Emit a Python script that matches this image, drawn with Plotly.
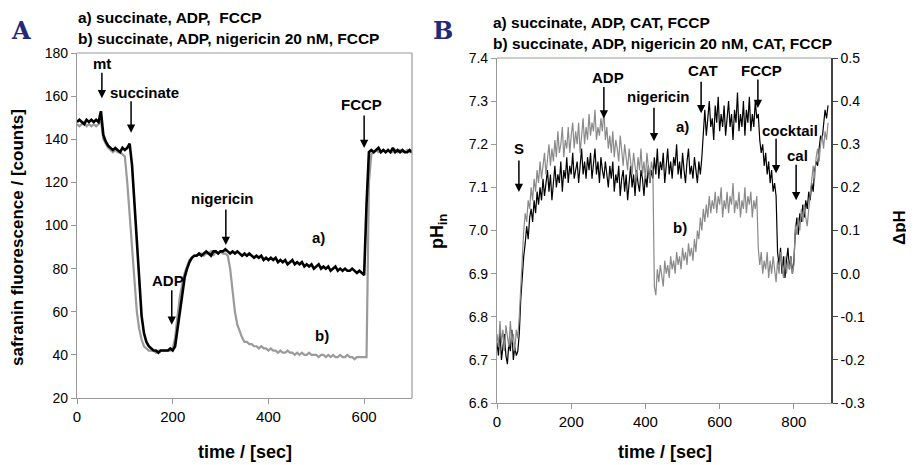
import numpy as np
import plotly.graph_objects as go

# ---------------- Panel A data (safranin fluorescence, counts), sampled every 5 s ----------------
A_STEP = 5
a_fluor_a = [148, 149, 148, 147, 149, 148, 149, 148, 149, 148,
             153, 142, 139, 137, 136, 135, 136, 135, 134, 136, 135, 136, 138,
             128, 110, 90, 72, 58, 50, 46, 44, 43, 42, 42, 41, 42, 42, 42, 42, 43, 42,
             44, 52, 62, 70, 76, 80, 83, 85, 86, 86, 87, 86, 87, 88, 87, 86, 88, 88, 87, 88,
             88, 89, 88, 87, 88, 87, 88, 87, 86, 87, 86, 87, 86, 85, 86, 85, 86, 84, 85, 84,
             85, 84, 85, 83, 84, 83, 84, 82, 83, 84, 82, 83, 82, 83, 81, 82, 81, 82, 80, 81,
             82, 80, 81, 80, 81, 79, 80, 81, 79, 80, 79, 80, 79, 79, 80, 79, 78, 79, 78, 77,
             110, 134, 135, 134, 135, 136, 134, 135, 134, 135, 134, 136, 134, 135, 134, 135,
             134, 134, 135, 134]
a_fluor_b = [147, 146, 147, 148, 146, 147, 146, 147, 146, 147,
             149, 140, 138, 136, 135, 134, 135, 134, 134, 133, 132,
             120, 104, 88, 72, 60, 52, 47, 44, 43, 42, 42, 42, 41, 42, 42, 42, 42, 42, 42,
             43, 48, 58, 67, 73, 78, 81, 84, 85, 86, 86, 87, 87, 86, 87, 87, 88, 86, 88, 87,
             88, 87, 87, 86, 80, 70, 60, 54, 51, 48, 46, 46, 45, 45, 44, 44, 43, 44, 43, 43,
             42, 43, 42, 42, 41, 42, 41, 41, 42, 41, 41, 40, 41, 40, 41, 40, 40, 41, 40, 40,
             40, 39, 40, 40, 39, 40, 39, 40, 39, 39, 40, 39, 39, 40, 39, 39, 38, 39, 39, 39,
             39, 39, 120, 133, 134, 135, 134, 134, 135, 134, 135, 134, 134, 135, 134, 135,
             134, 134, 135, 134, 134, 135, 134]

# ---------------- Panel B data (pH_in), sampled every 4 s, in segments {start time: values} ----------------
B_STEP = 4
b_ph_a_segments = {
    0: [6.74, 6.71, 6.77, 6.70, 6.73, 6.76, 6.71, 6.69, 6.74, 6.72, 6.77, 6.70, 6.73, 6.71, 6.72],
    60: [6.76, 6.84, 6.90, 6.94, 6.97, 7.01, 6.98, 7.03, 7.05, 7.02,
         7.07, 7.04, 7.09, 7.06, 7.10, 7.07, 7.12, 7.08, 7.11, 7.14,
         7.09, 7.13, 7.07, 7.12, 7.15, 7.10, 7.13, 7.11, 7.16, 7.09,
         7.14, 7.12, 7.17, 7.11, 7.15, 7.13, 7.18, 7.12, 7.14, 7.16,
         7.11, 7.15, 7.19, 7.13, 7.16, 7.12, 7.17, 7.14, 7.18, 7.12,
         7.15, 7.19, 7.13, 7.16, 7.11, 7.17, 7.14, 7.12, 7.16, 7.13,
         7.10, 7.15, 7.12, 7.16, 7.09, 7.13, 7.11, 7.15, 7.08, 7.12,
         7.14, 7.09, 7.13, 7.07, 7.12, 7.15, 7.10, 7.13, 7.08, 7.14,
         7.11, 7.09, 7.14, 7.12, 7.08, 7.13, 7.10, 7.15, 7.11, 7.14],
    420: [7.12, 7.17, 7.13, 7.19, 7.12, 7.16, 7.14, 7.18, 7.11, 7.15,
          7.19, 7.13, 7.16, 7.12, 7.17, 7.15, 7.20, 7.13, 7.16, 7.12,
          7.18, 7.14, 7.11, 7.16, 7.19, 7.13, 7.15, 7.12, 7.17, 7.14,
          7.11, 7.16, 7.13, 7.17],
    556: [7.24, 7.28, 7.22, 7.27, 7.30, 7.24, 7.26, 7.21, 7.29, 7.25,
          7.31, 7.23, 7.27, 7.24, 7.29, 7.22, 7.26, 7.30, 7.24, 7.27,
          7.21, 7.28, 7.25, 7.32, 7.23, 7.27, 7.24, 7.30, 7.22, 7.28,
          7.25, 7.31, 7.23, 7.27, 7.24, 7.30, 7.26, 7.27],
    708: [7.21, 7.18, 7.20, 7.15, 7.18, 7.13, 7.16, 7.11, 7.14, 7.09, 7.11, 7.08],
    756: [6.95, 6.92, 6.96, 6.90, 6.94, 6.89, 6.93, 6.96, 6.91, 6.94, 6.90, 6.93],
    804: [7.00, 7.03, 6.99, 7.04, 7.02, 7.06, 7.03, 7.07, 7.05, 7.09,
          7.07, 7.11, 7.09, 7.14, 7.16, 7.15, 7.19, 7.22, 7.21, 7.25,
          7.28, 7.26, 7.29],
}
b_ph_b_segments = {
    0: [6.76, 6.73, 6.79, 6.74, 6.77, 6.72, 6.78, 6.75, 6.73, 6.79, 6.74, 6.76, 6.72, 6.77, 6.75],
    60: [6.80, 6.88, 6.95, 7.00, 7.04, 7.02, 7.07, 7.05, 7.10, 7.07,
         7.12, 7.09, 7.14, 7.11, 7.16, 7.12, 7.15, 7.18, 7.13, 7.17,
         7.20, 7.15, 7.19, 7.16, 7.21, 7.17, 7.23, 7.18, 7.20, 7.24,
         7.17, 7.21, 7.19, 7.24, 7.18, 7.22, 7.25, 7.19, 7.23, 7.20,
         7.25, 7.18, 7.22, 7.26, 7.20, 7.24, 7.21, 7.27, 7.22, 7.25,
         7.23, 7.28, 7.21, 7.24, 7.22, 7.26, 7.23, 7.28, 7.21, 7.24,
         7.19, 7.22, 7.18, 7.23, 7.17, 7.21, 7.19, 7.16, 7.22, 7.18,
         7.15, 7.20, 7.17, 7.14, 7.19, 7.16, 7.13, 7.18, 7.15, 7.12,
         7.17, 7.14, 7.19, 7.13, 7.16, 7.12, 7.18, 7.14, 7.11, 7.16,
         7.14],
    424: [6.87, 6.85, 6.91, 6.88, 6.92, 6.89, 6.87, 6.93, 6.90, 6.92,
          6.89, 6.94, 6.91, 6.93, 6.90, 6.95, 6.92, 6.94, 6.91, 6.96,
          6.93, 6.95, 6.92, 6.97, 6.94, 6.96, 6.93, 6.98, 6.95, 7.00,
          6.98, 7.03, 7.00, 7.05, 7.02, 7.06, 7.03, 7.08, 7.04, 7.07,
          7.05, 7.09, 7.04, 7.08, 7.06, 7.10, 7.03, 7.07, 7.05, 7.09,
          7.04, 7.08, 7.06, 7.11, 7.04, 7.07, 7.05, 7.09, 7.03, 7.07,
          7.05, 7.10, 7.04, 7.08, 7.06, 7.09, 7.03, 7.07, 7.05, 7.08],
    704: [6.96, 6.92, 6.95, 6.90, 6.93, 6.91, 6.95, 6.89, 6.93, 6.90,
          6.94, 6.91, 6.88, 6.93, 6.90, 6.95, 6.91, 6.89, 6.94, 6.90,
          6.93, 6.91, 6.94, 6.90, 6.92],
    804: [7.01, 6.99, 7.03, 7.00, 7.05, 7.02, 7.06, 7.03, 7.01, 7.05,
          7.09, 7.12, 7.15, 7.12, 7.17, 7.19, 7.16, 7.20, 7.22, 7.19,
          7.23, 7.21, 7.25],
}

# tick values
a_xticks = [0, 200, 400, 600]
a_yticks = [20, 40, 60, 80, 100, 120, 140, 160, 180]
b_xticks = [0, 200, 400, 600, 800]
b_yticks_left = [6.6, 6.7, 6.8, 6.9, 7.0, 7.1, 7.2, 7.3, 7.4]
b_yticks_right = [-0.3, -0.2, -0.1, 0.0, 0.1, 0.2, 0.3, 0.4, 0.5]
b_yticks_right_text = ["-0.3", "-0.2", "-0.1", "0.0", "0.1", "0.2", "0.3", "0.4", "0.5"]

# event labels: (text, arrow tip x, arrow tip y, arrow length px, label x, label y)
a_events = [("mt", 52, 159, 27, 52, 175),
            ("succinate", 113, 143, 33, 140, 161.5),
            ("ADP", 198, 54, 36, 190, 74.7),
            ("nigericin", 311, 91, 37, 305, 112.3),
            ("FCCP", 600, 136, 34, 595, 155.9)]
a_curve_labels = [("a)", 504, 94.6), ("b)", 511, 49)]
b_events = [("S", 59, 7.089, 33, 59, 7.189),
            ("ADP", 288, 7.26, 33, 299, 7.354),
            ("nigericin", 423, 7.207, 35, 434, 7.31),
            ("CAT", 550, 7.272, 33, 555, 7.37),
            ("FCCP", 703, 7.284, 30, 714, 7.37),
            ("cocktail", 752, 7.133, 36, 790, 7.233),
            ("cal", 806, 7.07, 37, 811, 7.175)]
b_curve_labels = [("a)", 499, 7.242), ("b)", 493, 7.006)]

W, H = 914, 465
OFF = 8  # the page body margin shifts the figure by this many pixels
FONT = "Liberation Sans, Arial, sans-serif"
NARROW = "Liberation Sans Narrow, Arial Narrow, Liberation Sans, Arial, sans-serif"


def px(xp):
    return (xp - OFF) / W


def py(yp):
    return 1 - (yp - OFF) / H


def flatten(segments, step):
    t, v = [], []
    for start, vals in segments.items():
        t.extend(start + step * np.arange(len(vals)))
        v.extend(vals)
    return np.array(t), np.array(v)


t_a_a = np.arange(len(a_fluor_a)) * A_STEP
t_a_b = np.arange(len(a_fluor_b)) * A_STEP
t_b_a, v_b_a = flatten(b_ph_a_segments, B_STEP)
t_b_b, v_b_b = flatten(b_ph_b_segments, B_STEP)

fig = go.Figure()
fig.add_trace(go.Scatter(x=t_a_b, y=a_fluor_b, mode="lines", line=dict(color="#9a9a9a", width=2.2),
                         xaxis="x", yaxis="y", showlegend=False))
fig.add_trace(go.Scatter(x=t_a_a, y=a_fluor_a, mode="lines", line=dict(color="#000000", width=2.6),
                         xaxis="x", yaxis="y", showlegend=False))
fig.add_trace(go.Scatter(x=t_b_a, y=v_b_a, mode="lines", line=dict(color="#000000", width=1.2),
                         xaxis="x2", yaxis="y2", showlegend=False))
fig.add_trace(go.Scatter(x=t_b_b, y=v_b_b, mode="lines", line=dict(color="#8a8a8a", width=1.2),
                         xaxis="x2", yaxis="y2", showlegend=False))
fig.add_trace(go.Scatter(x=[0], y=[None], mode="lines", xaxis="x2", yaxis="y3",
                         showlegend=False, hoverinfo="skip"))

tickfont = dict(family=FONT, size=14, color="#000")
tickfont_x = dict(family=NARROW, size=15, color="#000")
axis_common = dict(showgrid=False, zeroline=False, ticks="outside", ticklen=5, automargin=False,
                   linecolor="#999", tickcolor="#999", linewidth=1.2, mirror=False, showline=True)

fig.update_layout(
    width=W, height=H,
    margin=dict(l=0, r=0, t=0, b=0, pad=0, autoexpand=False),
    paper_bgcolor="white", plot_bgcolor="white",
    xaxis=dict(domain=[px(77), px(412)], range=[0, 700], tickvals=a_xticks,
               tickfont=tickfont_x, anchor="y", **axis_common),
    yaxis=dict(domain=[py(398), py(53)], range=[20, 180], tickvals=a_yticks,
               tickfont=tickfont, anchor="x", **axis_common),
    xaxis2=dict(domain=[px(497), px(831)], range=[0, 900], tickvals=b_xticks,
                tickfont=tickfont_x, anchor="y2", **axis_common),
    yaxis2=dict(domain=[py(403), py(58)], range=[6.6, 7.4], tickvals=b_yticks_left,
                tickformat=".1f", tickfont=tickfont, anchor="x2", **axis_common),
    yaxis3=dict(range=[-0.3, 0.5], tickvals=b_yticks_right, ticktext=b_yticks_right_text,
                tickfont=tickfont, overlaying="y2", side="right", anchor="x2", automargin=False,
                showgrid=False, zeroline=False, ticks="outside", ticklen=5,
                linecolor="#444", tickcolor="#444", linewidth=1.5, showline=True),
    font=dict(family=FONT, color="#000"),
)

shapes = []
# frame lines (top/right of A, top of B)
shapes.append(dict(type="line", xref="paper", yref="paper", x0=px(77), x1=px(412), y0=py(53), y1=py(53),
                   line=dict(color="#999", width=1.2)))
shapes.append(dict(type="line", xref="paper", yref="paper", x0=px(412), x1=px(412), y0=py(53), y1=py(398),
                   line=dict(color="#999", width=1.2)))
shapes.append(dict(type="line", xref="paper", yref="paper", x0=px(497), x1=px(831), y0=py(58), y1=py(58),
                   line=dict(color="#999", width=1.2)))
fig.update_layout(shapes=shapes)

ann = []
lab_font = dict(family=FONT, size=15, color="#000")


def add_events(events, xr, yr):
    for text, tx, ty, length, lx, ly in events:
        ann.append(dict(x=tx, y=ty, xref=xr, yref=yr, text="", showarrow=True, ax=0, ay=-length,
                        arrowhead=2, arrowsize=1.1, arrowwidth=1.5, arrowcolor="#000"))
        ann.append(dict(x=lx, y=ly, xref=xr, yref=yr, text="<b>%s</b>" % text, showarrow=False,
                        font=lab_font, xanchor="center", yanchor="middle"))


add_events(a_events, "x", "y")
add_events(b_events, "x2", "y2")
for text, lx, ly in a_curve_labels:
    ann.append(dict(x=lx, y=ly, xref="x", yref="y", text="<b>%s</b>" % text, showarrow=False,
                    font=lab_font, xanchor="center", yanchor="middle"))
for text, lx, ly in b_curve_labels:
    ann.append(dict(x=lx, y=ly, xref="x2", yref="y2", text="<b>%s</b>" % text, showarrow=False,
                    font=lab_font, xanchor="center", yanchor="middle"))


def paper_text(text, xp, yp, font, xanchor="center", angle=0):
    ann.append(dict(x=px(xp), y=py(yp), xref="paper", yref="paper", text=text, showarrow=False,
                    xanchor=xanchor, yanchor="middle", textangle=angle, font=font))


serif = dict(family="DejaVu Serif, Liberation Serif, serif", size=24, color="#1f2a78")
paper_text("<b>A</b>", 21, 30, serif)
paper_text("<b>B</b>", 443, 30, serif)

hdr_font = dict(family=FONT, size=15.5, color="#000")
paper_text("<b>a) succinate, ADP,  FCCP</b>", 76, 17, hdr_font, xanchor="left")
paper_text("<b>b) succinate, ADP, nigericin 20 nM, FCCP</b>", 76, 39, hdr_font, xanchor="left")
paper_text("<b>a) succinate, ADP, CAT, FCCP</b>", 491, 22, hdr_font, xanchor="left")
paper_text("<b>b) succinate, ADP, nigericin 20 nM, CAT, FCCP</b>", 491, 43, hdr_font, xanchor="left")

title_font = dict(family=FONT, size=17, color="#000")
narrow_title = dict(family=NARROW, size=18, color="#000")
paper_text("<b>safranin fluorescence / [counts]</b>", 17, 238, title_font, angle=-90)
paper_text("<b>time / [sec]</b>", 245, 452, narrow_title)
paper_text("<b>time / [sec]</b>", 665, 452, narrow_title)
paper_text("<b>pH<sub>in</sub></b>", 438, 232, dict(family=FONT, size=18, color="#000"), angle=-90)
paper_text("<b>ΔpH</b>", 899, 228, dict(family=FONT, size=17, color="#000"), angle=-90)

fig.update_layout(annotations=ann)
fig.write_html("out.html")
